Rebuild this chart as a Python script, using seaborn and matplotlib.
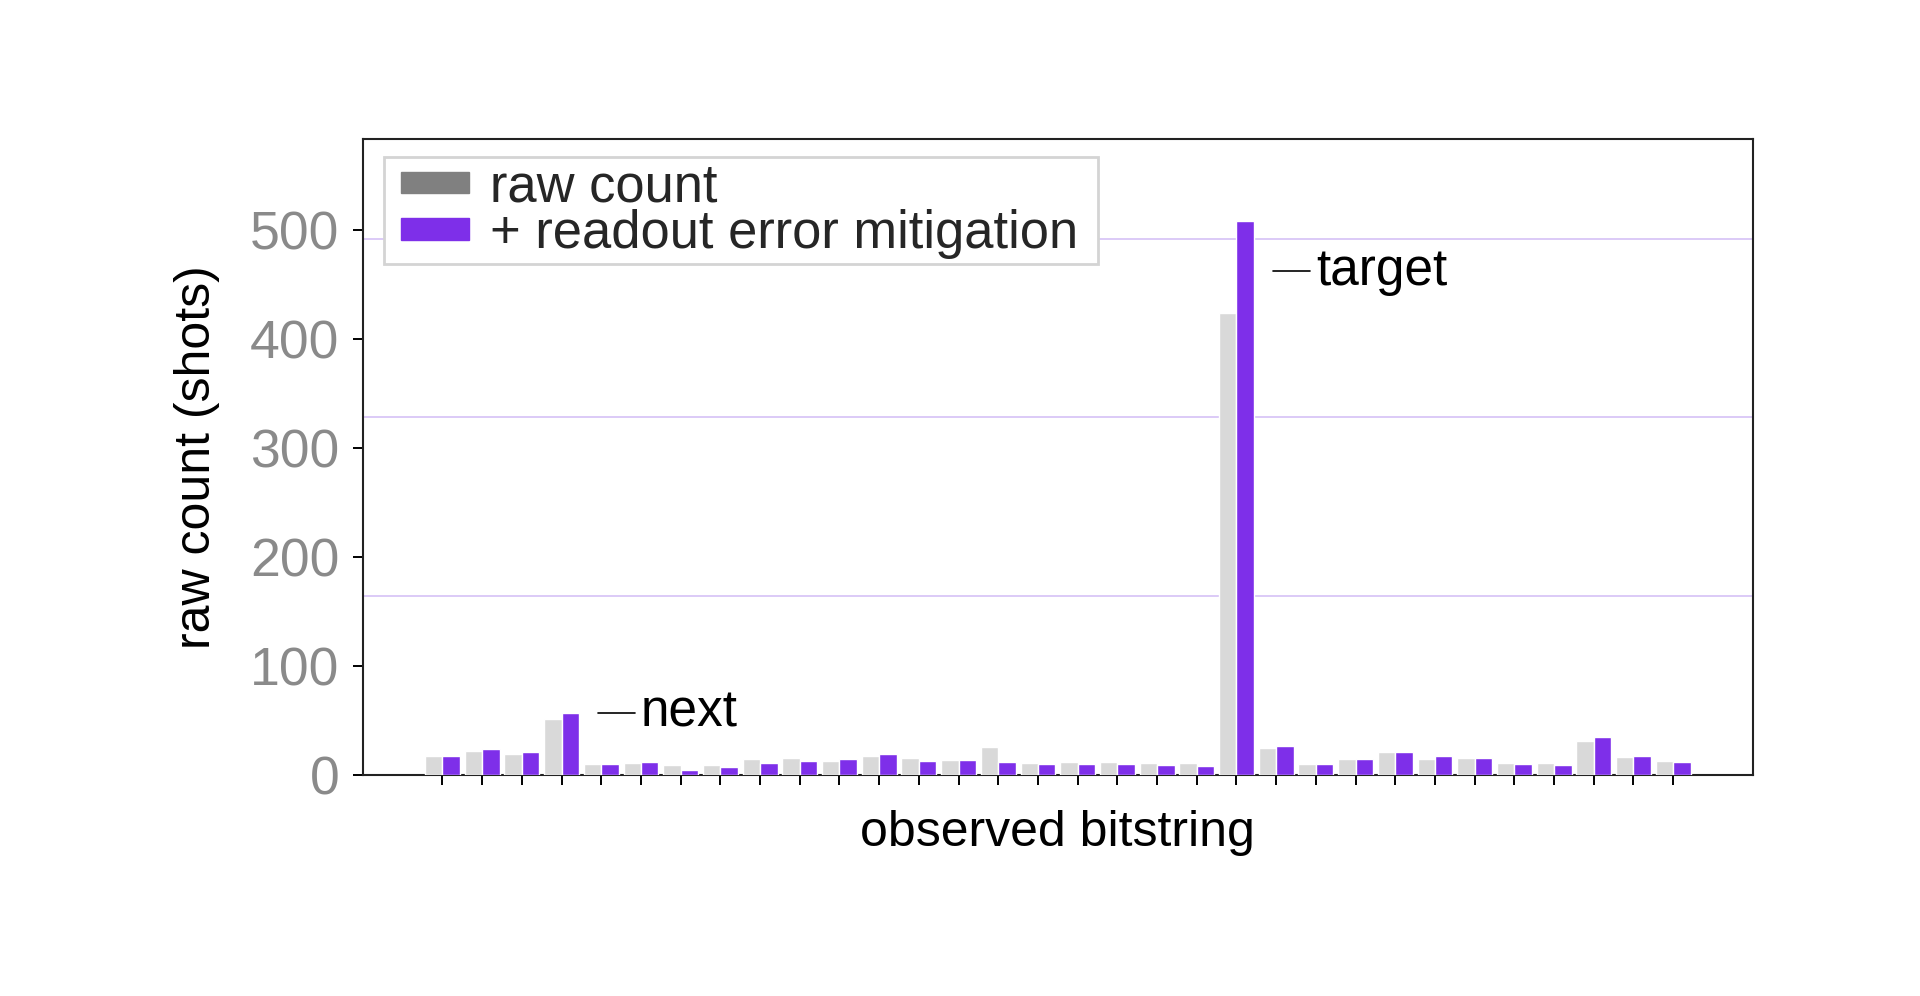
import matplotlib
matplotlib.use("Agg")
import matplotlib.pyplot as plt
from matplotlib.patches import Patch
from matplotlib.legend_handler import HandlerPatch
import seaborn as sns
import pandas as pd

# ---- data ----
bitstrings = [
    "00000", "00001", "00010", "00011", "00100", "00101", "00110", "00111",
    "01000", "01001", "01010", "01011", "01100", "01101", "01110", "01111",
    "10000", "10001", "10010", "10011", "10100", "10101", "10110", "10111",
    "11000", "11001", "11010", "11011", "11100", "11101", "11110", "11111",
]
raw_counts = [17, 22, 19, 51, 10.5, 11, 9.5, 9.5,
              14.5, 15.5, 13, 17.5, 15.5, 14, 26, 11,
              12, 12, 11, 11, 424, 25, 10, 14.5,
              21, 14.5, 15.5, 11, 11, 31.5, 16.5, 13]
mitigated_counts = [17.5, 23.5, 21.5, 57, 10.5, 12, 5, 7,
                    11, 13, 14.5, 19.5, 13, 13.5, 12, 10,
                    10, 10, 9, 8.5, 508, 26.5, 10, 14.5,
                    21.5, 17, 15.5, 10, 9.5, 35, 17, 12]
series_names = ["raw count", "+ readout error mitigation"]
y_ticks = [0, 100, 200, 300, 400, 500]
grid_levels = [164, 328, 492]
ann_labels = ["next", "target"]
ann_index = [3, 20]
ann_y = [56.6, 462]

# ---- styling ----
PURPLE = "#7e2fe9"
LIGHT_GRAY = "#d9d9d9"
LEGEND_GRAY = "#808080"
FONT = ["Liberation Sans", "DejaVu Sans"]

sns.set_theme(style="white")
plt.rcParams["font.family"] = FONT

df = pd.DataFrame({
    "bitstring": bitstrings * 2,
    "series": [series_names[0]] * len(bitstrings) + [series_names[1]] * len(bitstrings),
    "count": raw_counts + mitigated_counts,
})

fig = plt.figure(figsize=(19.2, 9.96), dpi=100)
ax = fig.add_axes([0.1891, 0.2219, 0.7237, 0.6381])

sns.barplot(data=df, x="bitstring", y="count", hue="series", order=bitstrings,
            hue_order=series_names,
            palette={series_names[0]: LIGHT_GRAY, series_names[1]: PURPLE},
            saturation=1, width=0.88, edgecolor="white", linewidth=1.0,
            legend=False, errorbar=None, ax=ax, zorder=3)

for g in grid_levels:
    ax.axhline(g, color="#d9c6f7", lw=1.3, zorder=0.5)

ax.set_xlim(-2, len(bitstrings) + 1)
ax.set_ylim(0, 583)
ax.set_yticks(y_ticks)
ax.set_yticklabels([str(t) for t in y_ticks])
ax.set_xticks(range(len(bitstrings)))
ax.set_xticklabels([])

ax.tick_params(axis="y", which="both", left=True, direction="out", length=7,
               width=1.4, color="black", labelsize=38.5, labelcolor="#8a8a8a", pad=10)
ax.tick_params(axis="x", which="both", bottom=True, direction="out", length=7,
               width=1.4, color="black")

for s in ax.spines.values():
    s.set_visible(True)
    s.set_color("#222222")
    s.set_linewidth(1.5)

ax.set_ylabel("raw count (shots)", fontsize=36, color="black", labelpad=22)
ax.set_xlabel("observed bitstring", fontsize=36, color="black", labelpad=15)

handles = [Patch(facecolor=LEGEND_GRAY, edgecolor=LEGEND_GRAY, label=series_names[0]),
           Patch(facecolor=PURPLE, edgecolor=PURPLE, label=series_names[1])]
leg = ax.legend(handles=handles, loc="upper left",
                bbox_to_anchor=(0.0152, 0.80, 0.514, 0.1717), mode="expand",
                borderaxespad=0, fontsize=37.8, frameon=True, fancybox=False,
                handlelength=1.52, handleheight=0.25, handletextpad=0.4,
                labelspacing=-0.07, borderpad=0.1,
                handler_map={Patch: HandlerPatch(xpad=0.22)})
leg.get_frame().set_edgecolor("#d4d4d4")
leg.get_frame().set_linewidth(2)
leg.get_frame().set_facecolor("white")
leg.get_frame().set_alpha(1)

for lab, idx, yv in zip(ann_labels, ann_index, ann_y):
    ax.plot([idx + 0.92, idx + 1.86], [yv, yv], color="black", lw=1.2, zorder=4)
    ax.text(idx + 2.0, yv, lab, fontsize=37, color="black", va="center", ha="left", zorder=4)

fig.savefig("out.png", dpi=100, facecolor="white")
